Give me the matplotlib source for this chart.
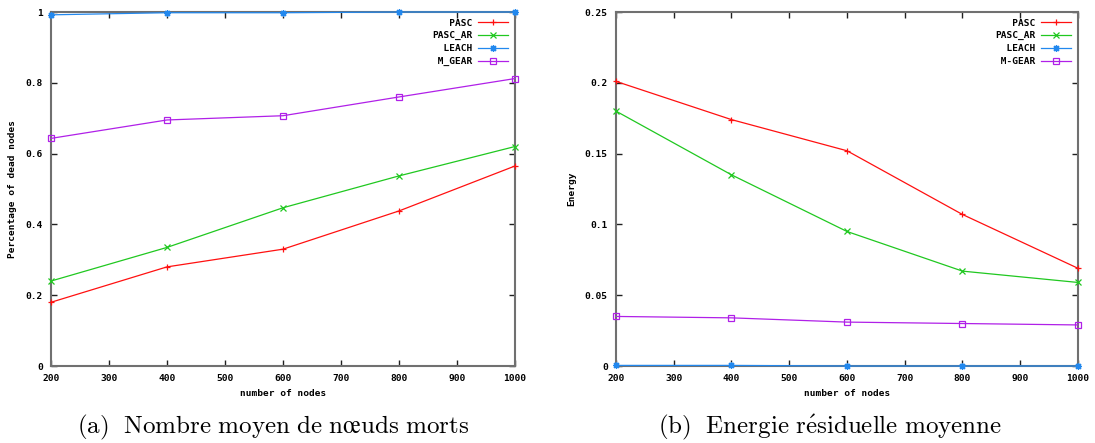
import matplotlib
matplotlib.use("Agg")
import matplotlib.pyplot as plt

plt.rcParams["mathtext.fontset"] = "cm"

nodes = [200, 400, 600, 800, 1000]
series_names = ["PASC", "PASC_AR", "LEACH", "M_GEAR"]
series_names_b = ["PASC", "PASC_AR", "LEACH", "M-GEAR"]

# (a) percentage of dead nodes
dead_pasc = [0.18, 0.28, 0.33, 0.438, 0.565]
dead_pasc_ar = [0.24, 0.335, 0.447, 0.537, 0.62]
dead_leach = [0.992, 0.998, 0.998, 1.0, 1.0]
dead_mgear = [0.643, 0.695, 0.707, 0.76, 0.812]

# (b) residual energy
energy_pasc = [0.201, 0.174, 0.152, 0.107, 0.069]
energy_pasc_ar = [0.18, 0.135, 0.095, 0.067, 0.059]
energy_leach = [0.0004, 0.0004, 0.0, 0.0, 0.0]
energy_mgear = [0.035, 0.034, 0.031, 0.030, 0.029]

x_ticks = [200, 300, 400, 500, 600, 700, 800, 900, 1000]
y_ticks_a = [0, 0.2, 0.4, 0.6, 0.8, 1]
y_labels_a = ["0", "0.2", "0.4", "0.6", "0.8", "1"]
y_ticks_b = [0, 0.05, 0.1, 0.15, 0.2, 0.25]
y_labels_b = ["0", "0.05", "0.1", "0.15", "0.2", "0.25"]

colors = ["#ff1010", "#20c820", "#2288ee", "#b020e8"]
markers = ["+", "x", (8, 2, 0), "s"]

mono = dict(family="DejaVu Sans Mono", weight="bold", size=6.8)


def draw_panel(ax, data, names, yticks, ylabels, ylabel, ylim):
    for vals, name, col, mk in zip(data, names, colors, markers):
        ax.plot(nodes, vals, color=col, linewidth=0.9, marker=mk,
                markersize=4 if mk == "s" else 5, markerfacecolor="none",
                markeredgecolor=col, markeredgewidth=0.9,
                label=name.rjust(7), clip_on=False, zorder=3)
    ax.set_xlim(200, 1000)
    ax.set_ylim(*ylim)
    ax.set_xticks(x_ticks)
    ax.set_xticklabels([str(t) for t in x_ticks], fontdict=mono)
    ax.set_yticks(yticks)
    ax.set_yticklabels(ylabels, fontdict=mono)
    ax.tick_params(direction="in", top=True, right=True, length=4, width=1,
                   color="#202020", pad=6)
    for side in ax.spines.values():
        side.set_color("#707070")
        side.set_linewidth(1.5)
    ax.set_xlabel("number of nodes", fontdict=mono, labelpad=4)
    ax.set_ylabel(ylabel, fontdict=mono, labelpad=6)
    ax.legend(loc="upper right", frameon=False, markerfirst=False,
              prop=dict(family="DejaVu Sans Mono", weight="bold", size=6.8),
              handlelength=3.2, labelspacing=0.4, borderaxespad=0.3,
              handletextpad=0.6)


fig = plt.figure(figsize=(10.95, 4.43), dpi=100)
ax1 = fig.add_axes([51 / 1095, 1 - 366 / 443, 464 / 1095, 354 / 443])
ax2 = fig.add_axes([616 / 1095, 1 - 366 / 443, 462 / 1095, 354 / 443])

draw_panel(ax1, [dead_pasc, dead_pasc_ar, dead_leach, dead_mgear], series_names,
           y_ticks_a, y_labels_a, "Percentage of dead nodes", (0, 1))
draw_panel(ax2, [energy_pasc, energy_pasc_ar, energy_leach, energy_mgear], series_names_b,
           y_ticks_b, y_labels_b, "Energy", (0, 0.25))

fig.text(273 / 1095, 1 - 427 / 443,
         r"$\mathrm{(a)\ \ Nombre\ moyen\ de\ n\oe uds\ morts}$",
         ha="center", va="center", fontsize=18)
fig.text(830 / 1095, 1 - 427 / 443,
         r"$\mathrm{(b)\ \ Energie\ r\acute{e}siduelle\ moyenne}$",
         ha="center", va="center", fontsize=18)

fig.savefig("out.png", dpi=100)
